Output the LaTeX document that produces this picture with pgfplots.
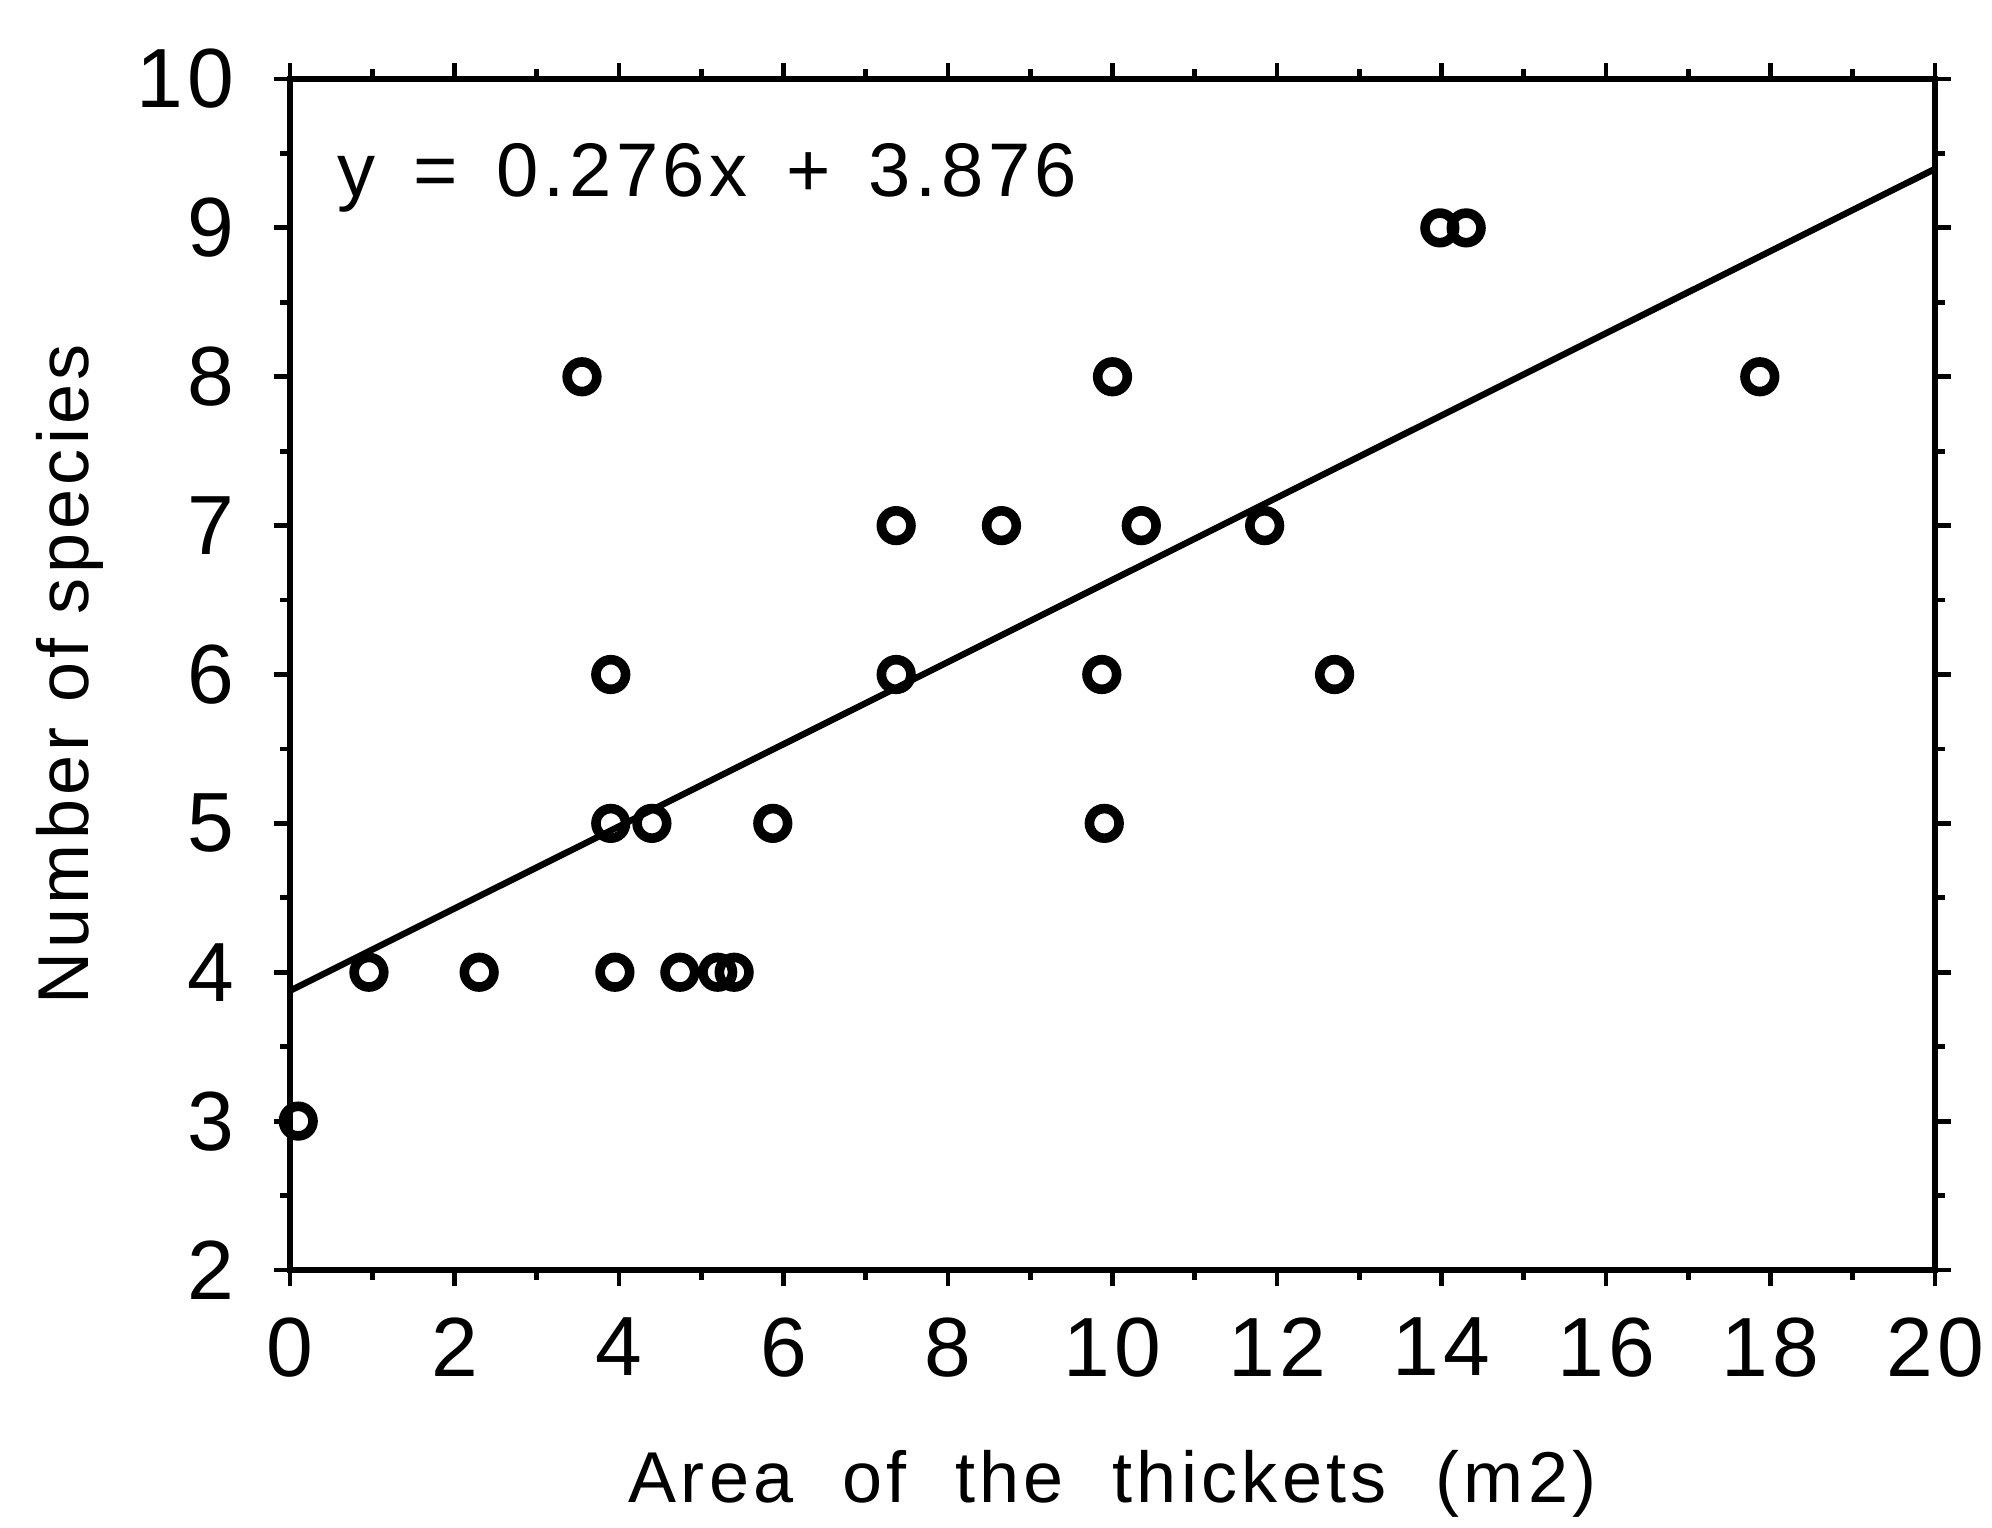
\documentclass[border=0pt]{standalone}
\usepackage{fontspec}
\setmainfont{Liberation Sans}
\usepackage{pgfplots}
\pgfplotsset{compat=1.18}
\begin{document}
\begin{tikzpicture}
\useasboundingbox (-72.5pt,-64.5pt) rectangle (425.5pt,317.5pt);
\begin{axis}[
  scale only axis, width=411.25pt, height=297.75pt,
  at={(0,0)}, anchor=south west,
  xmin=0, xmax=20, ymin=2, ymax=10,
  xtick={0,2,...,20}, ytick={2,3,...,10},
  minor x tick num=1, minor y tick num=1,
  tick align=outside, tick pos=both,
  major tick length=4pt, minor tick length=2.5pt,
  axis line style={line width=1.6pt},
  every tick/.style={black, line width=1.2pt},
  ticklabel style={font=\fontsize{21}{25}\selectfont\addfontfeature{LetterSpace=5}, /pgf/number format/assume math mode=true},
  xticklabel style={yshift=-4.5pt},
  yticklabel style={xshift=-6.5pt},
  label style={font=\fontsize{18}{22}\selectfont\addfontfeature{LetterSpace=6}},
  xlabel={Area \ of \ the \ thickets \ (m2)},
  ylabel={Number of species},
  xlabel style={at={(axis description cs:0.5,-0.1797)}, anchor=center},
  ylabel style={at={(axis description cs:-0.1337,0.5)}, anchor=center},
  clip=false,
]
\addplot[black, line width=1.6pt] coordinates {(0,3.876) (20,9.396)};
\addplot[only marks, mark=o, mark size=3.7pt, mark options={line width=2.4pt, black}] coordinates {
(0.1,3) (0.96,4) (2.3,4) (3.55,8) (3.9,6) (3.9,5) (3.95,4) (4.4,5) (4.74,4) (5.2,4) (5.4,4) (5.87,5)
(7.37,7) (7.37,6) (8.65,7) (9.87,6) (9.9,5) (10.0,8) (10.35,7) (11.85,7) (12.7,6) (13.98,9) (14.3,9) (17.87,8)
};
\node[anchor=west, font=\fontsize{19}{22}\selectfont\addfontfeature{LetterSpace=6}, inner sep=0pt] at (axis cs:0.57,9.335) {y \,=\, 0.276x \,+\, 3.876};
\end{axis}
\end{tikzpicture}
\end{document}
